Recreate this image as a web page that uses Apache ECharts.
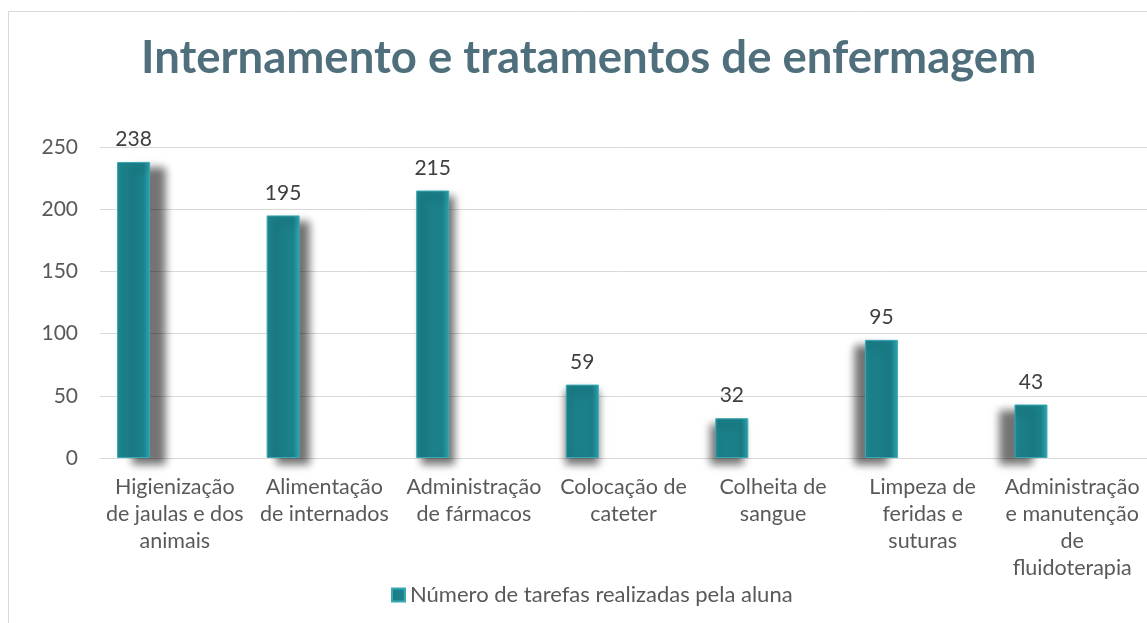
<!DOCTYPE html>
<html>
<head>
<meta charset="utf-8">
<script src="https://cdn.jsdelivr.net/npm/echarts@6/dist/echarts.min.js"></script>
<style>
html,body{margin:0;padding:0;background:#fff;}
#chart{width:1147px;height:623px;}
</style>
</head>
<body>
<div id="chart"></div>
<script>
const titleText = 'Internamento e tratamentos de enfermagem';
const seriesName = 'Número de tarefas realizadas pela aluna';
const categories = [
  'Higienização\nde jaulas e dos\nanimais',
  'Alimentação\nde internados',
  'Administração\nde fármacos',
  'Colocação de\ncateter',
  'Colheita de\nsangue',
  'Limpeza de\nferidas e\nsuturas',
  'Administração\ne manutenção\nde\nfluidoterapia'
];
const values = [238, 195, 215, 59, 32, 95, 43];
const yTicks = [0, 50, 100, 150, 200, 250];

const chart = echarts.init(document.getElementById('chart'));
const barColor = new echarts.graphic.LinearGradient(0, 0, 1, 0, [
  {offset: 0, color: '#1f8891'},
  {offset: 0.15, color: '#1b7f89'},
  {offset: 0.8, color: '#1b818b'},
  {offset: 1, color: '#2ea7b1'}
]);
const n = values.length;
const data = values.map((v, i) => ({
  value: v,
  itemStyle: {
    shadowOffsetX: Math.round(15 - 30 * i / (n - 1)),
    shadowOffsetY: 6
  }
}));

chart.setOption({
  animation: false,
  graphic: [{
    type: 'rect',
    shape: {x: 8.5, y: 11.5, width: 1200, height: 700},
    style: {fill: 'none', stroke: '#d9d9d9', lineWidth: 1},
    silent: true
  }],
  title: {
    text: titleText,
    left: 136,
    top: 30,
    textStyle: {fontFamily: 'Lato', fontWeight: 'bold', fontSize: 45.5, color: '#4f6f7c'}
  },
  legend: {
    data: [seriesName],
    top: 579,
    left: 386,
    icon: 'rect',
    itemWidth: 13,
    itemHeight: 13,
    itemGap: 4,
    textStyle: {fontFamily: 'Lato', fontSize: 22, color: '#595959'}
  },
  grid: {left: 100, top: 147, width: 1050, height: 311, containLabel: false},
  xAxis: {
    type: 'category',
    data: categories,
    axisTick: {show: false},
    axisLine: {lineStyle: {color: '#d9d9d9', width: 1}},
    axisLabel: {fontFamily: 'Lato', fontSize: 21.5, color: '#595959', lineHeight: 27, margin: 16, interval: 0}
  },
  yAxis: {
    type: 'value',
    min: yTicks[0],
    max: yTicks[yTicks.length - 1],
    interval: yTicks[1] - yTicks[0],
    axisLine: {show: false},
    axisTick: {show: false},
    splitLine: {lineStyle: {color: '#d9d9d9', width: 1}},
    axisLabel: {fontFamily: 'Lato', fontSize: 21, color: '#595959', margin: 22}
  },
  series: [{
    name: seriesName,
    type: 'bar',
    data: data,
    barWidth: 33,
    barGap: '150%',
    itemStyle: {
      color: barColor,
      borderColor: '#3aa9b3',
      borderWidth: 1,
      shadowBlur: 8,
      shadowColor: 'rgba(0,0,0,0.55)'
    },
    label: {show: true, position: 'top', distance: 12, fontFamily: 'Lato', fontSize: 21, color: '#404040'}
  }, {
    name: 'hidden',
    type: 'bar',
    data: values.map(() => null),
    barWidth: 33
  }]
});
</script>
</body>
</html>
